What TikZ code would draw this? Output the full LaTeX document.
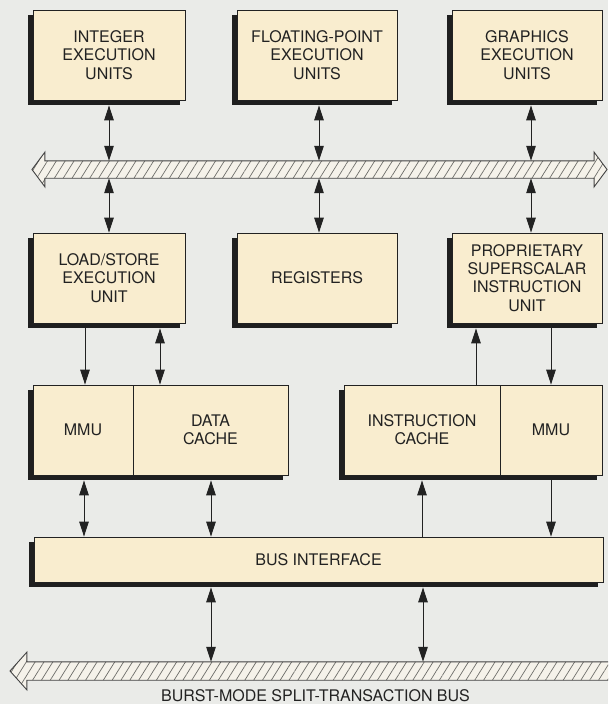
\documentclass[tikz,border=0pt]{standalone}
\usepackage{fontspec}
\setmainfont{TeX Gyre Heros}
\usetikzlibrary{arrows.meta,patterns.meta,calc,backgrounds}
\definecolor{bg}{HTML}{EAEBE8}
\definecolor{boxfill}{HTML}{F9EDCF}
\definecolor{busfill}{HTML}{F5F2EA}
\definecolor{hatch}{HTML}{6E6E6A}
\definecolor{ink}{HTML}{222222}
\begin{document}
\begin{tikzpicture}[x=1pt,y=-1pt,
  blk/.style={draw=ink, line width=0.8pt, fill=boxfill, inner sep=0pt, align=center,
    font=\fontsize{16}{18.3}\selectfont, text=ink},
  shad/.style={fill=black!88},
  bus/.style={draw=ink!85, line width=0.9pt, preaction={fill=busfill},
    pattern={Lines[angle=58,distance=7.5pt,line width=0.7pt]}, pattern color=hatch},
  tip/.tip={Triangle[length=15pt,width=9.5pt]},
  arr/.style={draw=ink, line width=1pt, -tip},
  darr/.style={draw=ink, line width=1pt, tip-tip}
]
\useasboundingbox (0,0) rectangle (608,704);
\clip (0,0) rectangle (608,704);

% top row
\node[blk, minimum width=152, minimum height=90] (int) at (109,55) {INTEGER\\EXECUTION\\UNITS};
\node[blk, minimum width=160, minimum height=90] (fp)  at (317,55) {FLOATING-POINT\\EXECUTION\\UNITS};
\node[blk, minimum width=150, minimum height=90] (gfx) at (527,55) {GRAPHICS\\EXECUTION\\UNITS};

% middle row
\node[blk, minimum width=152, minimum height=90] (ls)   at (109,278) {LOAD/STORE\\EXECUTION\\UNIT};
\node[blk, minimum width=160, minimum height=90] (reg)  at (317,278) {REGISTERS};
\node[blk, minimum width=150, minimum height=90] (prop) at (527,278) {PROPRIETARY\\SUPERSCALAR\\INSTRUCTION\\UNIT};

% cache row
\node[blk, minimum width=100, minimum height=90] (mmuA) at (83,430) {MMU};
\node[blk, minimum width=155, minimum height=90] (dc)   at (210.5,430) {DATA\\CACHE};
\node[blk, minimum width=156, minimum height=90] (ic)   at (422,430) {INSTRUCTION\\CACHE};
\node[blk, minimum width=102, minimum height=90] (mmuB) at (551,430) {MMU};

% bus interface
\node[blk, minimum width=569, minimum height=45] (bi) at (318.5,559.5) {BUS INTERFACE};

% buses (shaft reference nodes)
\node[inner sep=0pt, minimum width=549, minimum height=17] (busA) at (319.5,169.5) {};
\node[inner sep=0pt, minimum width=588, minimum height=18] (busB) at (321,671) {};

\draw[bus] (32,169.5) -- (45,152) -- (busA.north west) -- (busA.north east) -- (594,152)
  -- (607,169.5) -- (594,187) -- (busA.south east) -- (busA.south west) -- (45,187) -- cycle;
\draw[bus] (10,671) -- (27,652) -- (busB.north west) -- (busB.north east)
  -- (busB.south east) -- (busB.south west) -- (27,690) -- cycle;

\node[font=\fontsize{16}{18}\selectfont, text=ink, anchor=base] (lbl) at (315.5,701) {BURST-MODE SPLIT-TRANSACTION BUS};

% shadows
\begin{scope}[on background layer]
  \fill[bg] (0,0) rectangle (608,704);
  \foreach \n in {int,fp,gfx,ls,reg,prop,bi}{
    \fill[shad] ($(\n.north west)+(-5,5)$) rectangle ($(\n.south east)+(-5,5)$);
  }
  \fill[shad] ($(mmuA.north west)+(-5,5)$) rectangle ($(dc.south east)+(-5,5)$);
  \fill[shad] ($(ic.north west)+(-5,5)$) rectangle ($(mmuB.south east)+(-5,5)$);
\end{scope}

% connector end points just below the shadows
\coordinate (intS)  at ($(int.south)+(0,5)$);
\coordinate (fpS)   at ($(fp.south)+(2,5)$);
\coordinate (gfxS)  at ($(gfx.south)+(4,5)$);
\coordinate (lsSa)  at ($(ls.south)+(-24,5)$);
\coordinate (lsSb)  at ($(ls.south)+(51,5)$);
\coordinate (propSa) at ($(prop.south)+(-51,5)$);
\coordinate (propSb) at ($(prop.south)+(24,5)$);
\coordinate (mmuAS) at ($(mmuA.south)+(1,5)$);
\coordinate (dcS)   at ($(dc.south)+(0.5,5)$);
\coordinate (icS)   at ($(ic.south)+(0,5)$);
\coordinate (mmuBS) at ($(mmuB.south)+(0,5)$);
\coordinate (biSa)  at ($(bi.south)+(-107.5,5)$);
\coordinate (biSb)  at ($(bi.south)+(104.5,5)$);

% top row <-> bus A
\draw[darr] (intS) -- (intS |- busA.north);
\draw[darr] (fpS) -- (fpS |- busA.north);
\draw[darr] (gfxS) -- (gfxS |- busA.north);
% bus A <-> middle row
\draw[darr] (intS |- busA.south) -- (intS |- ls.north);
\draw[darr] (fpS |- busA.south) -- (fpS |- reg.north);
\draw[darr] (gfxS |- busA.south) -- (gfxS |- prop.north);
% middle row -> cache row
\draw[arr] (lsSa) -- (lsSa |- mmuA.north);
\draw[darr] (lsSb) -- (lsSb |- dc.north);
\draw[arr] (propSa |- ic.north) -- (propSa);
\draw[arr] (propSb) -- (propSb |- mmuB.north);
% cache row <-> bus interface
\draw[darr] (mmuAS) -- (mmuAS |- bi.north);
\draw[darr] (dcS) -- (dcS |- bi.north);
\draw[arr] (icS |- bi.north) -- (icS);
\draw[arr] (mmuBS) -- (mmuBS |- bi.north);
% bus interface <-> bus B
\draw[darr] (biSa) -- (biSa |- busB.north);
\draw[darr] (biSb) -- (biSb |- busB.north);
\end{tikzpicture}
\end{document}
